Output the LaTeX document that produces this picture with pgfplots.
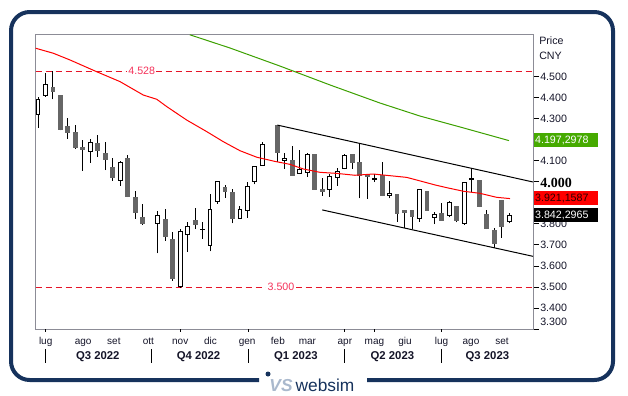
\documentclass[border=0pt]{standalone}
\usepackage{pgfplots}
\pgfplotsset{compat=1.18}
\usepackage{pgfplotstable}
\usepackage{fontspec}
\setmainfont{Liberation Sans}
\newfontfamily\serifb{Liberation Serif}
\definecolor{navy}{RGB}{22,50,92}
\definecolor{framegray}{RGB}{140,140,150}
\definecolor{candlegray}{RGB}{102,102,102}
\definecolor{maRed}{RGB}{255,0,0}
\definecolor{maGreen}{RGB}{60,160,0}
\definecolor{boxGreen}{RGB}{70,170,0}
\definecolor{lvlRed}{RGB}{230,20,40}
\definecolor{lvlText}{RGB}{245,50,90}
\definecolor{logoBlue}{RGB}{170,185,205}
\definecolor{lbl}{RGB}{20,20,40}

\pgfplotstableread{
i O H L C
0 4.322 4.406 4.259 4.394
1 4.413 4.520 4.406 4.465
2 4.448 4.530 4.394 4.430
3 4.410 4.412 4.246 4.248
4 4.263 4.306 4.205 4.235
5 4.235 4.271 4.157 4.165
6 4.162 4.200 4.054 4.156
7 4.143 4.206 4.092 4.190
8 4.181 4.222 4.120 4.149
9 4.137 4.192 4.057 4.105
10 4.067 4.113 4.007 4.021
11 4.008 4.100 3.981 4.094
12 4.113 4.129 3.928 3.930
13 3.927 3.957 3.825 3.854
14 3.830 3.894 3.795 3.803
16 3.803 3.862 3.660 3.841
17 3.822 3.870 3.720 3.740
18 3.727 3.763 3.530 3.540
19 3.501 3.778 3.495 3.765
20 3.751 3.808 3.668 3.789
21 3.819 3.875 3.775 3.799
22 3.774 3.810 3.730 3.776
23 3.699 3.943 3.670 3.870
24 3.906 4.005 3.897 4.000
25 3.975 3.986 3.925 3.954
26 3.952 3.968 3.803 3.825
27 3.827 3.887 3.826 3.870
28 3.865 4.000 3.830 3.980
29 4.000 4.076 3.989 4.075
30 4.080 4.189 4.078 4.180
32 4.271 4.273 4.097 4.140
33 4.101 4.137 4.062 4.110
34 4.100 4.171 4.029 4.030
35 4.041 4.152 4.037 4.060
36 4.043 4.140 4.025 4.133
37 4.133 4.135 3.963 3.965
38 3.962 4.018 3.935 3.954
39 3.962 4.037 3.930 4.025
40 4.022 4.065 3.981 4.049
41 4.062 4.132 4.060 4.124
42 4.133 4.135 4.062 4.093
43 4.092 4.180 3.922 4.033
44 4.033 4.034 3.921 4.027
45 4.012 4.037 3.999 4.016
46 4.029 4.097 3.933 3.935
47 3.938 4.003 3.922 3.944
48 3.941 3.943 3.811 3.851
49 3.863 3.865 3.780 3.857
50 3.863 3.867 3.775 3.835
51 3.825 3.968 3.811 3.962
52 3.957 3.958 3.862 3.863
53 3.830 3.859 3.799 3.843
54 3.852 3.901 3.818 3.819
55 3.840 3.910 3.832 3.903
56 3.882 3.884 3.808 3.819
57 3.803 4.001 3.797 3.997
58 4.012 4.068 3.951 4.016
59 4.005 4.007 3.880 3.882
60 3.843 3.867 3.775 3.780
61 3.771 3.781 3.687 3.706
62 3.913 3.915 3.735 3.787
63 3.813 3.852 3.803 3.841
}\candles

\pgfplotstableread{
i p
-0.31 4.637
2.05 4.613
4.28 4.581
7.85 4.525
10.96 4.478
14.08 4.414
15.87 4.394
17.21 4.359
19.88 4.295
22.55 4.240
24.77 4.192
27.0 4.149
29.24 4.118
31.68 4.098
33.69 4.084
35.47 4.062
37.70 4.046
39.93 4.041
42.38 4.032
44.83 4.038
47.06 4.030
49.29 4.022
51.51 4.001
53.07 3.986
54.64 3.973
56.86 3.956
59.09 3.946
61.32 3.927
63.1 3.921
}\mared

\pgfplotstableread{
i p
20.3 4.701
25.67 4.638
32.35 4.552
39.04 4.462
45.72 4.376
51.07 4.314
56.42 4.262
62.97 4.197
}\magreen

\begin{document}
\begin{tikzpicture}[x=0.75pt,y=-0.75pt]
\useasboundingbox (0,0) rectangle (628,396);
\begin{axis}[
  at={(26.775pt,-246.75pt)}, anchor=south west,
  scale only axis, width=372.98pt, height=220.73pt,
  xmin=-0.3075, xmax=66.176, ymin=3.30, ymax=4.7014,
  axis line style={draw=framegray, line width=0.75pt},
  xtick=\empty,
  ytick={3.3,3.4,3.5,3.6,3.7,3.8,3.9,4.0,4.1,4.2,4.3,4.4,4.5},
  yticklabels={},
  ytick pos=right, tick align=outside, major tick length=4.5pt,
  ytick style={black, line width=0.75pt},
  wick/.style={black, line width=0.75pt, mark=none},
  upc/.style={draw=black, fill=white, line width=0.75pt, mark=none},
  downc/.style={draw=candlegray, fill=candlegray, line width=0.75pt, mark=none},
]
\addplot[lvlRed, line width=0.75pt, dash pattern=on 5pt off 2.5pt, mark=none] coordinates {(-0.3075,4.528) (66.176,4.528)};
\addplot[lvlRed, line width=0.75pt, dash pattern=on 5pt off 2.5pt, mark=none] coordinates {(-0.3075,3.5) (66.176,3.5)};
\addplot[maGreen, line width=0.75pt, mark=none] table[x=i,y=p] {\magreen};
\pgfplotstablegetrowsof{\candles}
\pgfmathtruncatemacro{\nrows}{\pgfplotsretval-1}
\pgfplotsforeachungrouped \r in {0,...,\nrows}{%
  \pgfplotstablegetelem{\r}{i}\of\candles \let\ci\pgfplotsretval
  \pgfplotstablegetelem{\r}{O}\of\candles \let\co\pgfplotsretval
  \pgfplotstablegetelem{\r}{H}\of\candles \let\ch\pgfplotsretval
  \pgfplotstablegetelem{\r}{L}\of\candles \let\cl\pgfplotsretval
  \pgfplotstablegetelem{\r}{C}\of\candles \let\cc\pgfplotsretval
  \pgfmathsetmacro{\xa}{\ci-0.26}%
  \pgfmathsetmacro{\xb}{\ci+0.26}%
  \ifdim\cc pt<\co pt \def\bst{downc}\else\def\bst{upc}\fi
  \edef\tmp{\noexpand\addplot[wick] coordinates {(\ci,\cl) (\ci,\ch)};
    \noexpand\addplot[\bst] coordinates {(\xa,\co) (\xb,\co) (\xb,\cc) (\xa,\cc)} -- cycle;}%
  \tmp
}
\addplot[maRed, line width=0.75pt, mark=none] table[x=i,y=p] {\mared};
\addplot[black, line width=0.75pt, mark=none] coordinates {(32,4.271) (66.176,4.000)};
\addplot[black, line width=0.75pt, mark=none] coordinates {(38,3.867) (66.176,3.646)};
\end{axis}

% level labels
\node[fill=white, inner sep=1pt, text=lvlText, font=\fontsize{8}{9}\selectfont] at (141.7,71.3) {4.528};
\node[fill=white, inner sep=1pt, text=lvlText, font=\fontsize{8}{9}\selectfont] at (281,287) {3.500};

% y tick labels
\begin{scope}[every node/.style={anchor=west, inner sep=0pt, text=lbl, font=\fontsize{8}{9}\selectfont}]
\node at (540,77) {4.500};
\node at (540,98) {4.400};
\node at (540,119) {4.300};
\node at (540,161) {4.100};
\node at (540,224) {3.800};
\node at (540,245) {3.700};
\node at (540,266) {3.600};
\node at (540,287) {3.500};
\node at (540,308) {3.400};
\node at (540,321.7) {3.300};
\node at (539,41) {Price};
\node at (539,56) {CNY};
\node[font=\serifb\fontsize{10.5}{11}\selectfont\bfseries, text=black] at (540,182.5) {4.000};
\end{scope}

% value boxes
\begin{scope}[every node/.style={anchor=west, inner xsep=1pt, inner ysep=0pt, minimum height=10pt, text width=46.5pt, font=\fontsize{8}{9}\selectfont}]
\node[fill=boxGreen, text=white] at (533.5,140) {4.197,2978};
\node[fill=red, text=black!85!red] at (533.5,198) {3.921,1587};
\node[fill=black, text=white] at (533.5,215) {3.842,2965};
\end{scope}

% x labels
\begin{scope}[every node/.style={anchor=base, inner sep=0pt, text=lbl, font=\fontsize{7.5}{8}\selectfont}]
\foreach \xx/\mm in {45.7/lug,83.2/ago,113.9/set,148.4/ott,180.2/nov,210.4/dic,247.2/gen,277.9/feb,307.4/mar,344.9/apr,374.4/mag,405/giu,441.5/lug,471/ago,502/set}
  \node at (\xx,344) {\mm};
\end{scope}
\begin{scope}[every node/.style={anchor=base, inner sep=0pt, text=lbl, font=\fontsize{8.5}{9}\selectfont\bfseries}]
\foreach \xx/\qq in {97.8/Q3 2022,198.5/Q4 2022,295.9/Q1 2023,392.4/Q2 2023,487.4/Q3 2023}
  \node at (\xx,359.5) {\qq};
\end{scope}
\foreach \xx in {45.7,151,248,344.9,441.8}
  \draw[black, line width=0.75pt] (\xx,349) -- (\xx,363);
\foreach \xx in {45.7,180.2,248,344.9,374.4,441.8}
  \draw[black, line width=0.75pt] (\xx,329) -- (\xx,332);

% outer frame
\draw[navy, line width=3pt, rounded corners=14pt] (259,380) -- (11,380) -- (11,12) -- (613,12) -- (613,380) -- (367,380);
\fill[navy] (268,374) circle (2.5);
\node[anchor=base, inner sep=0pt, text=logoBlue, font=\fontsize{13}{13}\selectfont\bfseries\itshape] at (281,391) {VS};
\node[anchor=base, inner sep=0pt, text=navy, font=\fontsize{13}{13}\selectfont] at (325,391) {websim};
\end{tikzpicture}
\end{document}
